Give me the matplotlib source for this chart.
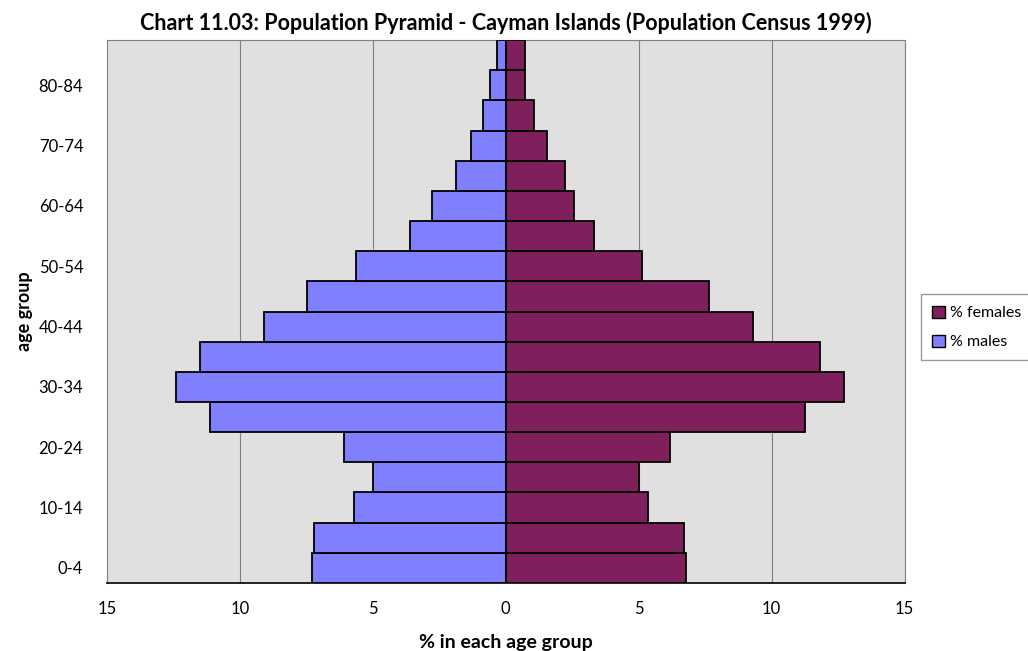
import numpy as np
import matplotlib.pyplot as plt
from matplotlib.patches import Patch

plt.rcParams['font.family'] = ['Lato', 'DejaVu Sans']

age_groups = ["0-4", "5-9", "10-14", "15-19", "20-24", "25-29", "30-34", "35-39",
              "40-44", "45-49", "50-54", "55-59", "60-64", "65-69", "70-74",
              "75-79", "80-84", "85+"]
males = [7.28, 7.2, 5.7, 4.98, 6.1, 11.13, 12.4, 11.5, 9.1, 7.47, 5.62,
         3.62, 2.79, 1.89, 1.32, 0.87, 0.6, 0.34]
females = [6.79, 6.72, 5.36, 5.02, 6.19, 11.25, 12.72, 11.81, 9.28, 7.66, 5.13,
           3.32, 2.57, 2.23, 1.55, 1.06, 0.72, 0.72]

male_col = "#8080ff"
female_col = "#7f1f5b"

fig = plt.figure(figsize=(10.28, 6.51), dpi=100)
ax = fig.add_axes([0.104, 0.1045, 0.776, 0.834])
ax.set_facecolor("#e0e0e0")

y = np.arange(len(age_groups))
ax.barh(y, -np.array(males), height=1.0, color=male_col, edgecolor="black", linewidth=1.3, zorder=3)
ax.barh(y, females, height=1.0, color=female_col, edgecolor="black", linewidth=1.3, zorder=3)

ax.set_xlim(-15, 15)
ax.set_ylim(-0.5, len(age_groups) - 0.5)
ax.set_xticks([-15, -10, -5, 0, 5, 10, 15])
ax.set_xticklabels(["15", "10", "5", "0", "5", "10", "15"])
ax.set_yticks(y[::2])
ax.set_yticklabels(age_groups[::2])
ax.tick_params(length=0, labelsize=12)
ax.tick_params(axis="y", pad=17)
ax.tick_params(axis="x", pad=13)
ax.grid(axis="x", color="#808080", linewidth=0.8, zorder=0)

for s in ["top", "right", "left"]:
    ax.spines[s].set_color("#808080")
ax.spines["bottom"].set_color("black")
ax.spines["bottom"].set_linewidth(1.2)

ax.set_title("Chart 11.03: Population Pyramid - Cayman Islands (Population Census 1999)",
             fontsize=15.5, fontweight="bold", pad=7)
ax.set_xlabel("% in each age group", fontsize=14, fontweight="bold", labelpad=12)
ax.set_ylabel("age group", fontsize=13, fontweight="bold", labelpad=4)

handles = [Patch(facecolor=female_col, edgecolor="black", label="% females"),
           Patch(facecolor=male_col, edgecolor="black", label="% males")]
fig.legend(handles=handles, loc="center left", bbox_to_anchor=(0.888, 0.497),
           frameon=True, fancybox=False, edgecolor="#808080", fontsize=11.5,
           handlelength=0.8, handleheight=0.8, handletextpad=0.3, borderpad=0.7,
           labelspacing=0.9)

fig.savefig("out.png", dpi=100)
